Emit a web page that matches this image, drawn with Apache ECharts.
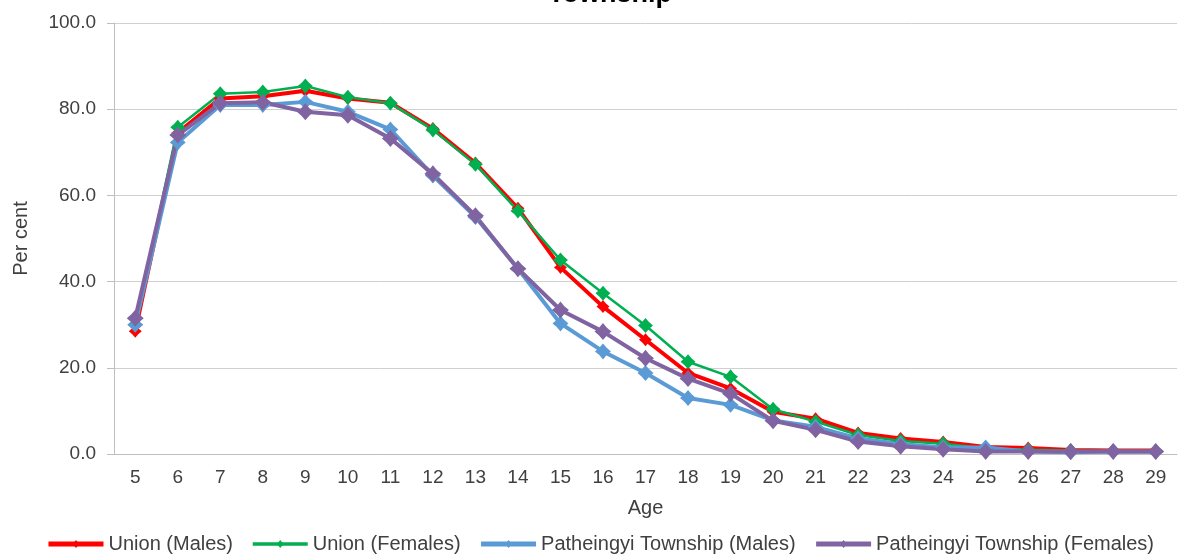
<!DOCTYPE html>
<html>
<head>
<meta charset="utf-8">
<script src="https://cdn.jsdelivr.net/npm/echarts@6/dist/echarts.min.js"></script>
<style>
  html, body { margin: 0; padding: 0; background: #fff; }
  #chart { width: 1200px; height: 560px; }
</style>
</head>
<body>
<div id="chart"></div>
<script>
// ages 5 to 29
var ages = ['5','6','7','8','9','10','11','12','13','14','15','16','17','18','19','20','21','22','23','24','25','26','27','28','29'];

var unionMales = [28.5, 74.5, 82.5, 83.0, 84.3, 82.5, 81.5, 75.5, 67.5, 57.0, 43.3, 34.2, 26.5, 18.8, 15.2, 9.8, 8.2, 4.9, 3.6, 2.8, 1.6, 1.4, 0.9, 0.8, 0.8];
var unionFemales = [30.0, 75.8, 83.6, 84.0, 85.4, 82.8, 81.4, 75.2, 67.2, 56.4, 45.0, 37.3, 29.8, 21.4, 17.9, 10.4, 7.5, 4.4, 3.0, 2.4, 1.3, 1.0, 0.8, 0.7, 0.7];
var patMales = [30.0, 72.3, 81.0, 81.0, 81.7, 79.4, 75.3, 64.6, 55.0, 43.0, 30.3, 23.8, 18.8, 13.0, 11.4, 7.8, 6.3, 3.6, 2.3, 1.5, 1.5, 0.6, 0.4, 0.6, 0.5];
var patFemales = [31.5, 74.0, 81.4, 81.6, 79.4, 78.6, 73.2, 65.0, 55.3, 43.0, 33.4, 28.4, 22.2, 17.5, 14.0, 7.7, 5.6, 2.9, 1.8, 1.1, 0.6, 0.6, 0.6, 0.6, 0.6];

var seriesNames = ['Union (Males)', 'Union (Females)', 'Patheingyi Township (Males)', 'Patheingyi Township (Females)'];
var seriesColors = ['#FF0000', '#00B050', '#5B9BD5', '#8064A2'];
var lineWidths = [4, 2.5, 4, 4];

// slightly pinched diamond, like the excel marker
var markerPath = 'path://M0,-10 L4.6,-4.6 L10,0 L4.6,4.6 L0,10 L-4.6,4.6 L-10,0 L-4.6,-4.6 Z';

var myChart = echarts.init(document.getElementById('chart'));

function mkSeries(i, data, size) {
    return {
        name: seriesNames[i],
        type: 'line',
        data: data,
        symbol: markerPath,
        symbolSize: size,
        color: seriesColors[i],
        lineStyle: { width: lineWidths[i], color: seriesColors[i] },
        itemStyle: { color: seriesColors[i] },
        animation: false
    };
}

var legendData = seriesNames.map(function (n, i) {
    return { name: n, lineStyle: { width: lineWidths[i] + 1 } };
});

var option = {
    textStyle: { fontFamily: 'Liberation Sans, Arial, sans-serif' },
    title: {
        text: 'Township',
        left: 548,
        top: -19,
        padding: 0,
        textStyle: { fontSize: 27, fontWeight: 'bold', color: '#000' }
    },
    legend: {
        bottom: 1,
        left: 'center',
        itemWidth: 55,
        itemHeight: 10,
        itemGap: 18,
        textStyle: { fontSize: 20, color: '#404040' },
        data: legendData
    },
    grid: { left: 114, right: 23, top: 23, bottom: 106 },
    xAxis: {
        type: 'category',
        data: ages,
        name: 'Age',
        nameLocation: 'middle',
        nameGap: 44,
        nameTextStyle: { fontSize: 20, color: '#404040' },
        axisLine: { lineStyle: { color: '#BFBFBF', width: 1 } },
        axisTick: { show: false },
        axisLabel: { fontSize: 19, color: '#404040', margin: 14 }
    },
    yAxis: {
        type: 'value',
        min: 0,
        max: 100,
        interval: 20,
        name: 'Per cent',
        nameLocation: 'middle',
        nameGap: 83,
        nameTextStyle: { fontSize: 20, color: '#404040' },
        axisLine: { show: true, lineStyle: { color: '#BFBFBF', width: 1 } },
        axisTick: { show: true, length: 7, lineStyle: { color: '#BFBFBF' } },
        splitLine: { lineStyle: { color: '#D0D0D0', width: 1 } },
        axisLabel: {
            fontSize: 19, color: '#404040', margin: 18,
            formatter: function (v) { return v.toFixed(1); }
        }
    },
    series: [
        mkSeries(0, unionMales, 13),
        mkSeries(1, unionFemales, 15),
        mkSeries(2, patMales, 16),
        mkSeries(3, patFemales, 17)
    ]
};

myChart.setOption(option);
</script>
</body>
</html>
